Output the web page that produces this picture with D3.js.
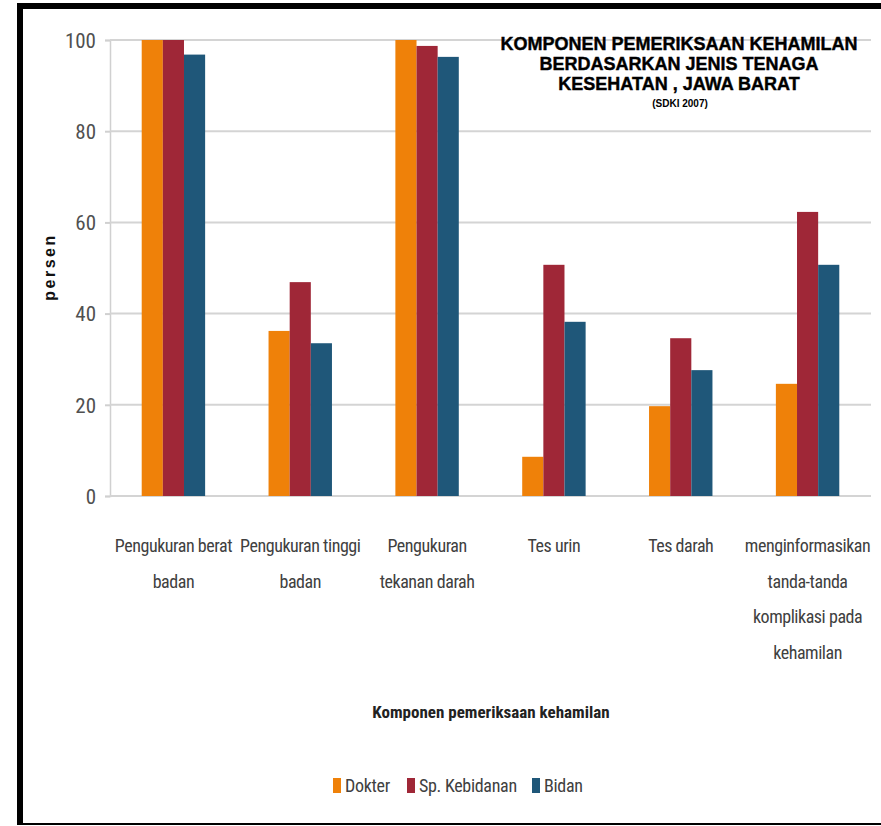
<!DOCTYPE html>
<html>
<head>
<meta charset="utf-8">
<script src="https://cdn.jsdelivr.net/npm/d3@7"></script>
<style>
    body { margin: 0; background: #fff; }
    svg { display: block; }
    .narrow { font-family: "Liberation Sans Narrow", "Arial Narrow", "Roboto Condensed", "Liberation Sans", sans-serif; }
</style>
</head>
<body>
<div id="chart"></div>
<script>
// Data
const categories = [
    'Pengukuran berat badan',
    'Pengukuran tinggi badan',
    'Pengukuran tekanan darah',
    'Tes urin',
    'Tes darah',
    'menginformasikan tanda-tanda komplikasi pada kehamilan'
];
const categoryLines = [
    ['Pengukuran berat', 'badan'],
    ['Pengukuran tinggi', 'badan'],
    ['Pengukuran', 'tekanan darah'],
    ['Tes urin'],
    ['Tes darah'],
    ['menginformasikan', 'tanda-tanda', 'komplikasi pada', 'kehamilan']
];
const seriesNames = ['Dokter', 'Sp. Kebidanan', 'Bidan'];
const dokter = [100, 36.2, 100, 8.6, 19.7, 24.6];
const spKebidanan = [100, 46.9, 98.7, 50.7, 34.6, 62.3];
const bidan = [96.8, 33.5, 96.3, 38.2, 27.6, 50.7];
const yTicks = [0, 20, 40, 60, 80, 100];
const titleLines = ['KOMPONEN PEMERIKSAAN KEHAMILAN', 'BERDASARKAN JENIS TENAGA', 'KESEHATAN , JAWA BARAT'];
const subtitle = '(SDKI 2007)';

const colors = ['#ef8109', '#9f2737', '#1f5779'];
const seriesValues = [dokter, spKebidanan, bidan];

const width = 881, height = 826;
const plot = {left: 110, right: 871, top: 40, bottom: 496};

const svg = d3.select('#chart')
    .append('svg')
    .attr('width', width)
    .attr('height', height);

// Frame: thick top + left, thin bottom
svg.append('rect').attr('x', 17).attr('y', 3).attr('width', width - 17).attr('height', 6).attr('fill', '#000');
svg.append('rect').attr('x', 17).attr('y', 3).attr('width', 6).attr('height', 822).attr('fill', '#000');
svg.append('rect').attr('x', 17).attr('y', 823).attr('width', width - 17).attr('height', 2).attr('fill', '#000');

const x = d3.scaleBand()
    .domain(categories)
    .range([plot.left, plot.right])
    .padding(0);

const x1 = d3.scaleBand()
    .domain(seriesNames)
    .range([0, x.bandwidth()])
    .paddingInner(0)
    .paddingOuter(1.5);

const y = d3.scaleLinear()
    .domain([0, 100])
    .range([plot.bottom, plot.top]);

// Gridlines + y axis
const yAxis = svg.append('g')
    .attr('class', 'narrow')
    .attr('transform', `translate(${plot.left},0)`)
    .call(d3.axisLeft(y).tickValues(yTicks).tickSize(5).tickPadding(9));
yAxis.select('.domain').attr('stroke', '#d0d0d0').attr('stroke-width', 1.5);
yAxis.selectAll('.tick line').attr('stroke', '#d0d0d0').attr('stroke-width', 2);
yAxis.selectAll('.tick text')
    .attr('fill', '#505050')
    .style('font-size', '21px')
    .attr('dy', '0.35em');

svg.append('g')
    .selectAll('line')
    .data(yTicks)
    .enter()
    .append('line')
    .attr('x1', plot.left)
    .attr('x2', plot.right)
    .attr('y1', d => y(d))
    .attr('y2', d => y(d))
    .attr('stroke', '#d4d4d4')
    .attr('stroke-width', 2);

// Bars
const groups = svg.append('g')
    .selectAll('g')
    .data(categories)
    .enter()
    .append('g')
    .attr('transform', d => `translate(${x(d)},0)`);

groups.selectAll('rect')
    .data((d, i) => seriesNames.map((s, j) => ({series: s, value: seriesValues[j][i], j: j})))
    .enter()
    .append('rect')
    .attr('x', d => x1(d.series))
    .attr('width', x1.bandwidth())
    .attr('y', d => y(d.value))
    .attr('height', d => y(0) - y(d.value))
    .attr('fill', d => colors[d.j]);

// Category labels
const catLabels = svg.append('g')
    .attr('class', 'narrow')
    .selectAll('text')
    .data(categories)
    .enter()
    .append('text')
    .attr('text-anchor', 'middle')
    .attr('fill', '#404040')
    .style('font-size', '18px')
    .style('letter-spacing', '-0.45px');

catLabels.selectAll('tspan')
    .data((d, i) => categoryLines[i])
    .enter()
    .append('tspan')
    .attr('x', function() { return x(d3.select(this.parentNode).datum()) + x.bandwidth() / 2; })
    .attr('y', (d, i) => 552 + i * 35.5)
    .text(d => d);

// Axis titles
svg.append('text')
    .attr('class', 'narrow')
    .attr('x', 491)
    .attr('y', 718)
    .attr('text-anchor', 'middle')
    .attr('fill', '#222')
    .style('font-size', '17px')
    .style('font-weight', 'bold')
    .text('Komponen pemeriksaan kehamilan');

svg.append('text')
    .attr('transform', 'translate(55,267) rotate(-90)')
    .attr('text-anchor', 'middle')
    .attr('fill', '#111')
    .style('font-family', '"Liberation Sans", Arial, sans-serif')
    .style('font-size', '16px')
    .style('font-weight', 'bold')
    .style('letter-spacing', '2.5px')
    .text('persen');

// Chart title
const title = svg.append('text')
    .attr('text-anchor', 'middle')
    .attr('fill', '#000')
    .attr('stroke', '#000')
    .attr('stroke-width', 0.4)
    .style('font-family', '"Liberation Sans", Arial, sans-serif')
    .style('font-weight', 'bold')
    .style('font-size', '18px');

title.selectAll('tspan')
    .data(titleLines)
    .enter()
    .append('tspan')
    .attr('x', 679)
    .attr('y', (d, i) => 50 + i * 20)
    .text(d => d);

svg.append('text')
    .attr('x', 680)
    .attr('y', 107)
    .attr('text-anchor', 'middle')
    .attr('fill', '#000')
    .style('font-family', '"Liberation Sans", Arial, sans-serif')
    .style('font-weight', 'bold')
    .style('font-size', '10px')
    .text(subtitle);

// Legend
const legendX = [333, 407, 532];
const legend = svg.append('g')
    .attr('class', 'narrow')
    .selectAll('g')
    .data(seriesNames)
    .enter()
    .append('g')
    .attr('transform', (d, i) => `translate(${legendX[i]},778)`);

legend.append('rect')
    .attr('width', 8)
    .attr('height', 15)
    .attr('fill', (d, i) => colors[i]);

legend.append('text')
    .attr('x', 12)
    .attr('y', 14)
    .attr('fill', '#404040')
    .style('font-size', '18px')
    .style('letter-spacing', '-0.3px')
    .text(d => d);
</script>
</body>
</html>
